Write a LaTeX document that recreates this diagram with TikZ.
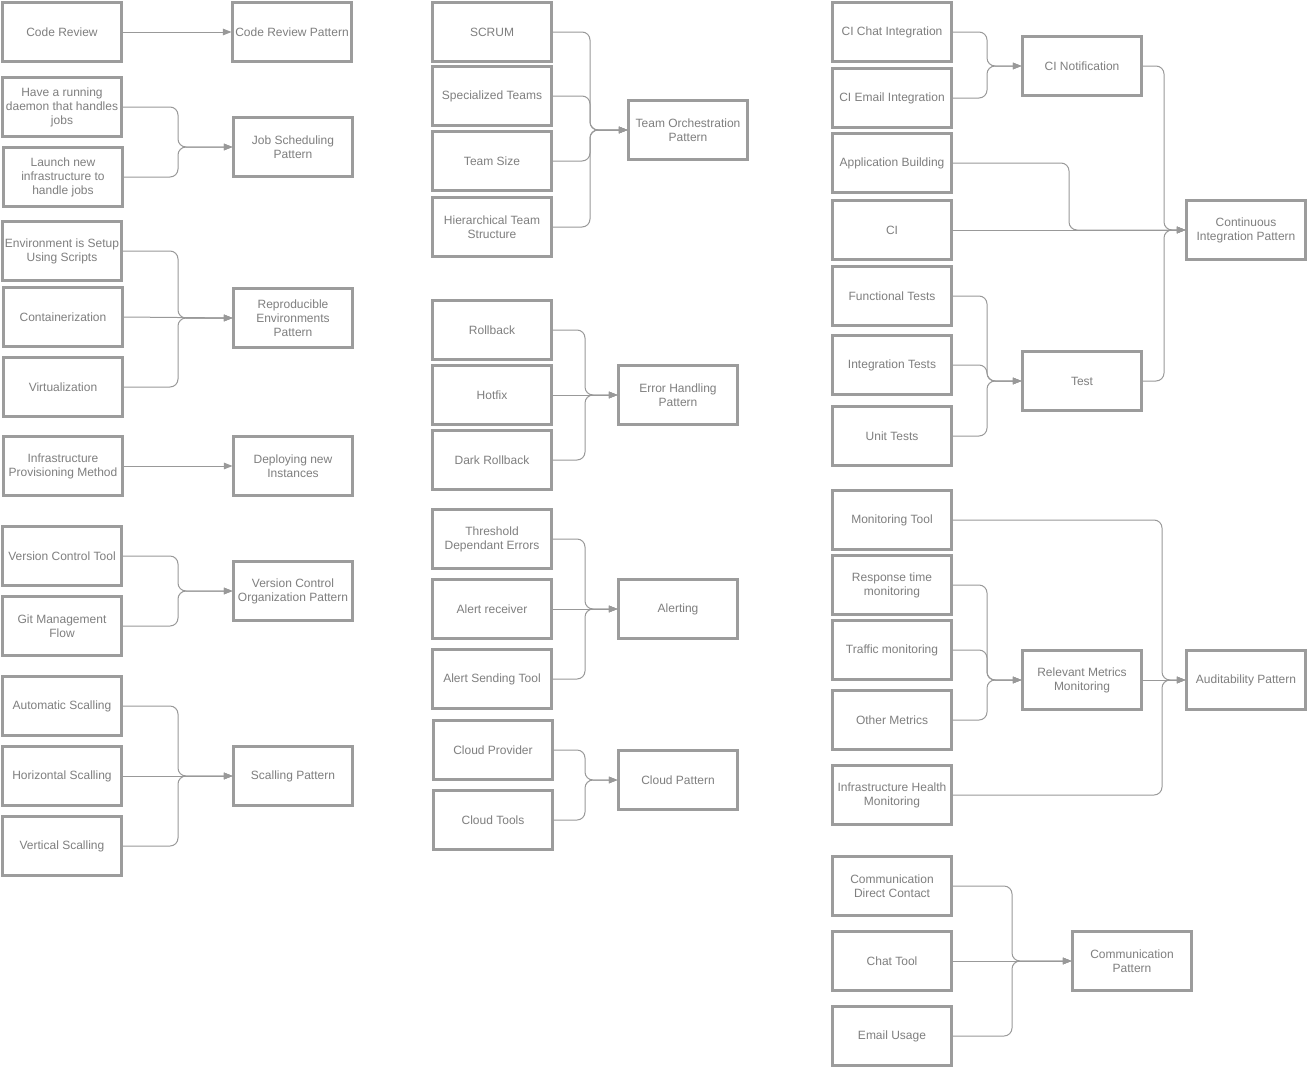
\documentclass[tikz,border=0pt]{standalone}
\usepackage{fontspec}
\setmainfont{Liberation Sans}
\usetikzlibrary{arrows.meta}
\definecolor{boxline}{HTML}{9C9C9C}
\definecolor{boxtext}{HTML}{7F7F7F}
\definecolor{conn}{HTML}{999999}
\begin{document}
\begin{tikzpicture}[x=1pt,y=-1pt,
  box/.style={draw=boxline,line width=2.1pt,minimum width=119pt,minimum height=59pt,
    inner sep=0pt,align=center,text=boxtext,font=\fontsize{12pt}{14pt}\selectfont},
  link/.style={draw=conn,line width=1pt,rounded corners=8pt,
    -{Triangle[length=8.5pt,width=6.5pt]}}]
\useasboundingbox (0,0) rectangle (1308,1068);
\fill[white] (0,0) rectangle (1308,1068);

% ---------- column 1 ----------
\node[box] (cr)   at (62,32)  {Code Review};
\node[box] (crp)  at (292,32) {Code Review Pattern};
\node[box] (daem) at (62,107) {Have a running\\daemon that handles\\jobs};
\node[box] (laun) at (63,177) {Launch new\\infrastructure to\\handle jobs};
\node[box] (jsp)  at (293,147) {Job Scheduling\\Pattern};
\node[box] (env)  at (62,251) {Environment is Setup\\Using Scripts};
\node[box] (cont) at (63,317) {Containerization};
\node[box] (virt) at (63,387) {Virtualization};
\node[box] (rep)  at (293,318) {Reproducible\\Environments\\Pattern};
\node[box] (ipm)  at (63,466) {Infrastructure\\Provisioning Method};
\node[box] (dni)  at (293,466) {Deploying new\\Instances};
\node[box] (vct)  at (62,556) {Version Control Tool};
\node[box] (gmf)  at (62,626) {Git Management\\Flow};
\node[box] (vcp)  at (293,591) {Version Control\\Organization Pattern};
\node[box] (auto) at (62,706) {Automatic Scalling};
\node[box] (hori) at (62,776) {Horizontal Scalling};
\node[box] (vert) at (62,846) {Vertical Scalling};
\node[box] (scp)  at (293,776) {Scalling Pattern};

\coordinate (b1) at (178,0);
\draw[link] (cr.east) -- (crp.west);
\draw[link] (daem.east) -- (daem.east -| b1) -- (jsp.west -| b1) -- (jsp.west);
\draw[link] (laun.east) -- (laun.east -| b1) -- (jsp.west -| b1) -- (jsp.west);
\draw[link] (env.east) -- (env.east -| b1) -- (rep.west -| b1) -- (rep.west);
\draw[link] (cont.east) -- (rep.west);
\draw[link] (virt.east) -- (virt.east -| b1) -- (rep.west -| b1) -- (rep.west);
\draw[link] (ipm.east) -- (dni.west);
\draw[link] (vct.east) -- (vct.east -| b1) -- (vcp.west -| b1) -- (vcp.west);
\draw[link] (gmf.east) -- (gmf.east -| b1) -- (vcp.west -| b1) -- (vcp.west);
\draw[link] (auto.east) -- (auto.east -| b1) -- (scp.west -| b1) -- (scp.west);
\draw[link] (hori.east) -- (scp.west);
\draw[link] (vert.east) -- (vert.east -| b1) -- (scp.west -| b1) -- (scp.west);

% ---------- column 2 ----------
\node[box] (scrum) at (492,32)  {SCRUM};
\node[box] (spec)  at (492,96)  {Specialized Teams};
\node[box] (tsize) at (492,161) {Team Size};
\node[box] (hier)  at (492,227) {Hierarchical Team\\Structure};
\node[box] (top)   at (688,130) {Team Orchestration\\Pattern};
\node[box] (roll)  at (492,330) {Rollback};
\node[box] (hot)   at (492,395) {Hotfix};
\node[box] (dark)  at (492,460) {Dark Rollback};
\node[box] (ehp)   at (678,395) {Error Handling\\Pattern};
\node[box] (thr)   at (492,539) {Threshold\\Dependant Errors};
\node[box] (arec)  at (492,609) {Alert receiver};
\node[box] (asend) at (492,679) {Alert Sending Tool};
\node[box] (alert) at (678,609) {Alerting};
\node[box] (cprov) at (493,750) {Cloud Provider};
\node[box] (ctool) at (493,820) {Cloud Tools};
\node[box] (cpat)  at (678,780) {Cloud Pattern};

\coordinate (b2) at (590,0);
\coordinate (b3) at (585,0);
\draw[link] (scrum.east) -- (scrum.east -| b2) -- (top.west -| b2) -- (top.west);
\draw[link] (spec.east) -- (spec.east -| b2) -- (top.west -| b2) -- (top.west);
\draw[link] (tsize.east) -- (tsize.east -| b2) -- (top.west -| b2) -- (top.west);
\draw[link] (hier.east) -- (hier.east -| b2) -- (top.west -| b2) -- (top.west);
\draw[link] (roll.east) -- (roll.east -| b3) -- (ehp.west -| b3) -- (ehp.west);
\draw[link] (hot.east) -- (ehp.west);
\draw[link] (dark.east) -- (dark.east -| b3) -- (ehp.west -| b3) -- (ehp.west);
\draw[link] (thr.east) -- (thr.east -| b3) -- (alert.west -| b3) -- (alert.west);
\draw[link] (arec.east) -- (alert.west);
\draw[link] (asend.east) -- (asend.east -| b3) -- (alert.west -| b3) -- (alert.west);
\draw[link] (cprov.east) -- (cprov.east -| b3) -- (cpat.west -| b3) -- (cpat.west);
\draw[link] (ctool.east) -- (ctool.east -| b3) -- (cpat.west -| b3) -- (cpat.west);

% ---------- column 3 ----------
\node[box] (chat)  at (892,32)  {CI Chat Integration};
\node[box] (email) at (892,98)  {CI Email Integration};
\node[box] (appb)  at (892,163) {Application Building};
\node[box] (ci)    at (892,230) {CI};
\node[box] (ftest) at (892,296) {Functional Tests};
\node[box] (itest) at (892,365) {Integration Tests};
\node[box] (utest) at (892,436) {Unit Tests};
\node[box] (cin)   at (1082,66) {CI Notification};
\node[box] (test)  at (1082,381) {Test};
\node[box] (cip)   at (1246,230) {Continuous\\Integration Pattern};
\node[box] (mtool) at (892,520) {Monitoring Tool};
\node[box] (resp)  at (892,585) {Response time\\monitoring};
\node[box] (traf)  at (892,650) {Traffic monitoring};
\node[box] (other) at (892,720) {Other Metrics};
\node[box] (ihm)   at (892,795) {Infrastructure Health\\Monitoring};
\node[box] (rmm)   at (1082,680) {Relevant Metrics\\Monitoring};
\node[box] (aud)   at (1246,680) {Auditability Pattern};
\node[box] (cdc)   at (892,886) {Communication\\Direct Contact};
\node[box] (ctl)   at (892,961) {Chat Tool};
\node[box] (emu)   at (892,1036) {Email Usage};
\node[box] (comp)  at (1132,961) {Communication\\Pattern};

\coordinate (b4) at (987,0);
\coordinate (b5) at (1069,0);
\coordinate (b6) at (1164,0);
\coordinate (b7) at (1162,0);
\coordinate (b8) at (1012,0);
\draw[link] (chat.east) -- (chat.east -| b4) -- (cin.west -| b4) -- (cin.west);
\draw[link] (email.east) -- (email.east -| b4) -- (cin.west -| b4) -- (cin.west);
\draw[link] (appb.east) -- (appb.east -| b5) -- (cip.west -| b5) -- (cip.west);
\draw[link] (ci.east) -- (cip.west);
\draw[link] (cin.east) -- (cin.east -| b6) -- (cip.west -| b6) -- (cip.west);
\draw[link] (test.east) -- (test.east -| b6) -- (cip.west -| b6) -- (cip.west);
\draw[link] (ftest.east) -- (ftest.east -| b4) -- (test.west -| b4) -- (test.west);
\draw[link] (itest.east) -- (itest.east -| b4) -- (test.west -| b4) -- (test.west);
\draw[link] (utest.east) -- (utest.east -| b4) -- (test.west -| b4) -- (test.west);
\draw[link] (resp.east) -- (resp.east -| b4) -- (rmm.west -| b4) -- (rmm.west);
\draw[link] (traf.east) -- (traf.east -| b4) -- (rmm.west -| b4) -- (rmm.west);
\draw[link] (other.east) -- (other.east -| b4) -- (rmm.west -| b4) -- (rmm.west);
\draw[link] (mtool.east) -- (mtool.east -| b7) -- (aud.west -| b7) -- (aud.west);
\draw[link] (rmm.east) -- (aud.west);
\draw[link] (ihm.east) -- (ihm.east -| b7) -- (aud.west -| b7) -- (aud.west);
\draw[link] (cdc.east) -- (cdc.east -| b8) -- (comp.west -| b8) -- (comp.west);
\draw[link] (ctl.east) -- (comp.west);
\draw[link] (emu.east) -- (emu.east -| b8) -- (comp.west -| b8) -- (comp.west);
\end{tikzpicture}
\end{document}
